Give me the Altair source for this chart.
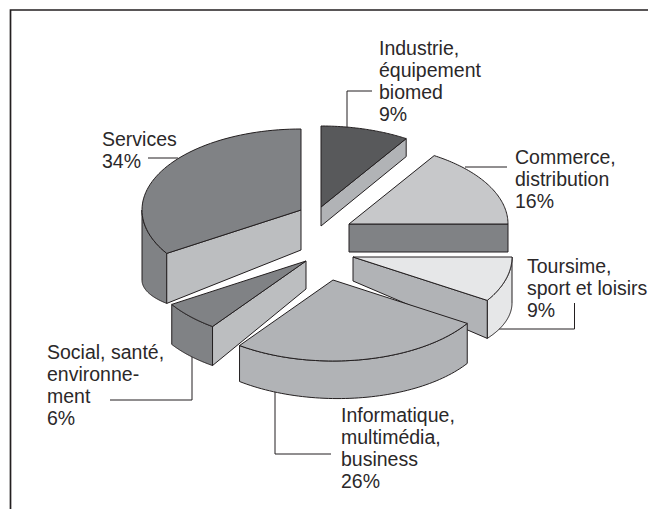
import math
import altair as alt
import pandas as pd

# ---- chart values ----
categories = ["Industrie", "Commerce", "Tourisme", "Informatique", "Social", "Services"]
shares = [9, 16, 9, 26, 6, 34]
label_lines = [
    ["Industrie,", "équipement", "biomed", "9%"],
    ["Commerce,", "distribution", "16%"],
    ["Toursime,", "sport et loisirs", "9%"],
    ["Informatique,", "multimédia,", "business", "26%"],
    ["Social, santé,", "environne-", "ment", "6%"],
    ["Services", "34%"],
]
top_colors = ["#58595b", "#c7c8ca", "#e6e7e8", "#b1b3b6", "#808285", "#808285"]
side_colors = ["#b1b3b6", "#808285", "#b1b3b6", "#b1b3b6", "#bcbec0", "#bcbec0"]
rim_colors = ["#58595b", "#c7c8ca", "#e6e7e8", "#b1b3b6", "#808285", "#808285"]

# ---- layout ----
W, H = 640, 501
RX, RY = 159, 81
INK = "#231f20"
apex = {"Industrie": (321, 207), "Commerce": (349, 224), "Tourisme": (353, 257),
        "Informatique": (333, 280), "Social": (306, 261), "Services": (301, 210)}
# depth at apex, at arc start, at arc end
depth = {"Industrie": (19, 18, 18), "Commerce": (28, 28, 28), "Tourisme": (24, 46, 38),
         "Informatique": (38, 40, 36), "Social": (28, 39, 40), "Services": (40, 50, 126)}
radial_face = {"Industrie": "end", "Commerce": "end", "Tourisme": "end",
               "Social": "start", "Services": "start"}
paint_order = ["Services", "Industrie", "Commerce", "Tourisme", "Social", "Informatique"]
label_anchor = {"Industrie": (379, 49), "Commerce": (515, 158), "Tourisme": (527, 267),
                "Informatique": (341, 416), "Social": (47, 353), "Services": (102, 140)}
LINE = 21.9
leaders = [
    [(347, 128), (347, 91), (372, 91)],
    [(465, 167), (507, 167)],
    [(497, 329), (574.5, 329), (574.5, 303)],
    [(275, 388), (275, 454), (331, 454)],
    [(192, 356), (192, 400), (110, 400)],
    [(148, 158), (178, 158)],
]
frame = [(10.5, 509), (10.5, 10), (648, 10)]

xs = alt.Scale(domain=[0, W], range=[0, W], nice=False, zero=False)
ys = alt.Scale(domain=[0, H], range=[0, H], nice=False, zero=False)
X = alt.X("x:Q", scale=xs, axis=None)
Y = alt.Y("y:Q", scale=ys, axis=None)


def poly(points, fill):
    pts = list(points) + [points[0]]
    df = pd.DataFrame({"x": [p[0] for p in pts], "y": [p[1] for p in pts], "i": range(len(pts))})
    return alt.Chart(df).mark_line(fill=fill, stroke=INK, strokeWidth=1, strokeJoin="miter",
                                   interpolate="linear").encode(x=X, y=Y, order="i:Q")


def path(points, width=1.0):
    df = pd.DataFrame({"x": [p[0] - 8 for p in points], "y": [p[1] - 8 for p in points],
                       "i": range(len(points))})
    return alt.Chart(df).mark_line(stroke=INK, strokeWidth=width).encode(x=X, y=Y, order="i:Q")


# slice angles, clockwise from 12 o'clock
spans = {}
a = 90.0
for c, s in zip(categories, shares):
    spans[c] = (a, a - s * 3.6)
    a -= s * 3.6

layers = [path(frame, 1.7)]
layers += [path(l) for l in leaders]

for c in paint_order:
    k = categories.index(c)
    a0, a1 = spans[c]
    ax, ay = apex[c]
    ax -= 8
    ay -= 8
    d0, ds, de = depth[c]
    n = 60
    angs = [a0 + (a1 - a0) * i / n for i in range(n + 1)]
    pt = lambda t: (ax + RX * math.cos(math.radians(t)), ay - RY * math.sin(math.radians(t)))
    dp = lambda t: ds + (de - ds) * (t - a0) / (a1 - a0)
    # outer rim: only the part of the arc facing the viewer (angles -180..0)
    lo, hi = max(a1, -180.0), min(a0, 0.0)
    if hi > lo:
        front = [hi + (lo - hi) * i / n for i in range(n + 1)]
        upper = [pt(t) for t in front]
        lower = [(pt(t)[0], pt(t)[1] + dp(t)) for t in front]
        layers.append(poly(upper + lower[::-1], rim_colors[k]))
    # radial face along the visible edge of the slice
    face = radial_face.get(c)
    if face:
        t_e = a0 if face == "start" else a1
        e = pt(t_e)
        layers.append(poly([(ax, ay), e, (e[0], e[1] + dp(t_e)), (ax, ay + d0)], side_colors[k]))
    # top face
    layers.append(poly([(ax, ay)] + [pt(t) for t in angs], top_colors[k]))

rows = []
for c, lines in zip(categories, label_lines):
    lx, ly = label_anchor[c]
    for j, t in enumerate(lines):
        rows.append({"x": lx - 8, "y": ly - 8 + j * LINE, "t": t})
labels = alt.Chart(pd.DataFrame(rows)).mark_text(
    align="left", baseline="middle", font="Liberation Sans", fontSize=19.5, color="#2b2829"
).encode(x=X, y=Y, text="t:N")
layers.append(labels)

chart = alt.layer(*layers).properties(
    width=W, height=H, padding=0, autosize=alt.AutoSizeParams(type="none")
).configure_view(stroke=None)

chart.save("out.html", embed_options={"renderer": "svg", "actions": False})
